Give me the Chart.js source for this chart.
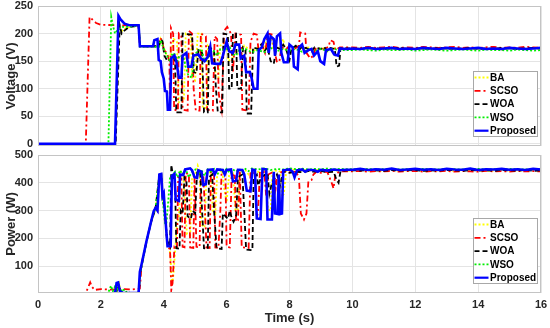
<!DOCTYPE html>
<html>
<head>
<meta charset="utf-8">
<title>Voltage and power</title>
<script src="https://cdn.jsdelivr.net/npm/chart.js@4.4.0/dist/chart.umd.min.js"></script>
<style>
  body { margin: 0; background: #fff; }
  #wrap { position: relative; width: 550px; height: 328px; }
  #topChart { position: absolute; left: 0; top: 0; }
  #botChart { position: absolute; left: 0; top: 150px; }
</style>
</head>
<body>
<div id="wrap">
  <canvas id="topChart" width="550" height="150"></canvas>
  <canvas id="botChart" width="550" height="178"></canvas>
</div>
<script>
// tick labels
const timeTicks = [0, 2, 4, 6, 8, 10, 12, 14, 16];
const voltTicks = [0, 50, 100, 150, 200, 250];
const powerTicks = [100, 200, 300, 400, 500];

const seriesNames = ["BA", "SCSO", "WOA", "WSO", "Proposed"];

// steady state part, shared time stamps (s)
const tailT = [10, 10.25, 10.5, 10.75, 11, 11.25, 11.5, 11.75, 12, 12.25, 12.5, 12.75, 13,
  13.25, 13.5, 13.75, 14, 14.25, 14.5, 14.75, 15, 15.25, 15.5, 15.75, 16];

// ---- voltage (V), [time, value] during the transient
const baV = [[0,0],[2.46,0],[2.58,214],[2.68,205],[2.8,210],[3.0,213],[3.2,214],[3.25,177],[3.85,177],[3.9,190],[4.0,175],[4.1,160],[4.2,158],[4.32,190],[4.42,185],[4.48,75],[4.64,78],[4.7,200],[4.86,196],[4.9,120],[5.0,115],[5.08,200],[5.2,200],[5.24,65],[5.36,65],[5.4,178],[5.58,168],[5.66,122],[5.74,120],[5.8,178],[5.98,186],[6.06,150],[6.22,158],[6.3,168],[6.46,160],[6.56,178],[6.7,172],[6.9,170],[7.0,176],[7.2,170],[7.3,198],[7.42,196],[7.48,172],[7.7,175],[7.8,190],[7.86,172],[8.0,170],[8.2,176],[8.4,172],[8.6,175],[8.8,170],[9.0,174],[9.2,171],[9.4,174],[9.6,172],[9.8,172]];
const scsoV = [[0,0],[1.52,0],[1.64,230],[1.72,226],[1.85,219],[2.0,216],[2.5,215],[3.2,215],[3.24,177],[3.84,177],[3.88,192],[3.95,188],[4.0,170],[4.1,165],[4.18,150],[4.2,62],[4.23,210],[4.3,200],[4.33,62],[4.45,60],[4.48,200],[4.56,196],[4.6,62],[4.76,60],[4.8,205],[4.9,200],[4.95,100],[5.02,60],[5.14,60],[5.18,200],[5.34,195],[5.38,62],[5.56,60],[5.62,195],[5.7,190],[5.75,90],[5.84,62],[5.92,205],[6.02,212],[6.14,200],[6.2,130],[6.28,200],[6.46,198],[6.5,62],[6.7,60],[6.76,185],[6.86,200],[6.96,198],[7.02,168],[7.12,180],[7.22,165],[7.32,200],[7.46,198],[7.52,170],[7.6,148],[7.68,150],[7.74,175],[7.9,172],[8.0,178],[8.1,168],[8.2,174],[8.3,178],[8.34,202],[8.5,200],[8.54,165],[8.66,155],[8.76,160],[8.84,175],[9.0,170],[9.1,172],[9.24,176],[9.3,188],[9.4,185],[9.46,170],[9.6,175],[9.8,175]];
const woaV = [[0,0],[2.47,0],[2.6,215],[2.66,200],[2.74,205],[2.9,212],[3.2,214],[3.25,177],[3.85,177],[3.9,190],[3.96,186],[4.02,160],[4.12,150],[4.2,152],[4.3,160],[4.36,150],[4.4,57],[4.56,57],[4.6,200],[4.9,198],[4.96,130],[5.04,128],[5.1,170],[5.22,165],[5.28,57],[5.4,57],[5.44,175],[5.6,170],[5.66,100],[5.72,57],[5.86,57],[5.9,200],[6.04,198],[6.08,100],[6.16,100],[6.2,200],[6.3,200],[6.34,100],[6.46,100],[6.52,175],[6.6,170],[6.64,55],[6.78,55],[6.84,175],[7.0,172],[7.1,180],[7.2,168],[7.3,175],[7.4,150],[7.5,145],[7.58,175],[7.7,172],[7.8,180],[7.9,170],[8.0,152],[8.06,172],[8.2,178],[8.3,170],[8.4,176],[8.6,172],[8.7,168],[8.8,175],[9.0,172],[9.1,176],[9.2,168],[9.3,174],[9.44,172],[9.5,140],[9.58,142],[9.62,173],[9.8,173]];
const wsoV = [[0,0],[2.24,0],[2.33,230],[2.38,215],[2.45,200],[2.55,208],[2.7,212],[3.0,213],[3.2,214],[3.25,176],[3.85,176],[3.9,188],[4.0,172],[4.1,160],[4.2,150],[4.28,165],[4.36,162],[4.44,150],[4.5,160],[4.62,158],[4.7,140],[4.78,124],[4.9,120],[4.96,162],[5.1,168],[5.2,172],[5.3,150],[5.38,152],[5.46,170],[5.6,168],[5.7,160],[5.8,172],[5.96,170],[6.1,175],[6.2,162],[6.3,160],[6.4,170],[6.6,172],[6.8,166],[7.0,170],[7.2,166],[7.4,174],[7.6,168],[7.8,172],[8.0,169],[8.2,172],[8.4,167],[8.6,171],[8.8,168],[9.0,172],[9.2,169],[9.4,172],[9.6,170],[9.8,170]];
const propV = [[0,0],[2.45,0],[2.56,232],[2.62,226],[2.75,218],[2.9,215],[3.2,215],[3.24,177],[3.66,177],[3.7,188],[3.8,190],[3.84,152],[3.9,150],[3.94,130],[4.0,118],[4.04,96],[4.1,95],[4.13,62],[4.2,62],[4.24,155],[4.34,160],[4.4,150],[4.48,120],[4.56,120],[4.6,160],[4.72,165],[4.78,140],[4.88,140],[4.94,160],[5.1,162],[5.18,155],[5.3,150],[5.4,158],[5.48,176],[5.54,146],[5.68,145],[5.8,145],[5.88,160],[6.0,185],[6.08,168],[6.2,165],[6.28,180],[6.4,180],[6.45,155],[6.56,160],[6.62,130],[6.74,130],[6.8,118],[6.86,100],[6.98,100],[7.02,170],[7.12,175],[7.2,190],[7.3,200],[7.34,165],[7.4,195],[7.5,190],[7.54,160],[7.6,195],[7.7,200],[7.74,165],[7.82,148],[7.94,148],[8.0,180],[8.1,175],[8.14,140],[8.26,135],[8.3,175],[8.4,180],[8.48,165],[8.6,170],[8.7,172],[8.78,160],[8.9,168],[8.98,150],[9.1,145],[9.16,170],[9.32,172],[9.42,162],[9.54,160],[9.6,173],[9.8,172]];

const baVTail = [172,173,171,172,173,172,171,173,172,172,173,171,172,173,172,171,172,173,172,171,173,172,172,173,172];
const scsoVTail = [175,174,176,174,175,176,174,175,174,176,175,174,175,176,174,175,174,175,176,174,175,174,176,175,174];
const woaVTail = [173,172,174,173,172,173,174,172,173,173,172,174,173,172,173,174,172,173,172,174,173,172,173,174,173];
const wsoVTail = [170,171,170,169,171,170,170,171,169,170,171,170,169,170,171,170,169,171,170,170,169,171,170,169,170];
const propVTail = [173,172,174,172,173,174,172,173,172,174,173,172,174,173,172,173,174,172,173,172,174,173,172,173,174];

// ---- power (W), [time, value] during the transient
const baP = [[0,0],[2.48,0],[2.52,30],[2.56,48],[2.62,15],[2.7,4],[3.2,4],[3.26,80],[3.45,188],[3.6,260],[3.74,308],[3.86,428],[3.92,430],[3.96,350],[4.04,290],[4.1,200],[4.18,170],[4.22,120],[4.26,30],[4.3,60],[4.36,150],[4.42,260],[4.48,270],[4.54,440],[4.62,435],[4.68,300],[4.74,215],[4.84,212],[4.9,420],[5.0,430],[5.08,462],[5.14,440],[5.2,250],[5.3,240],[5.36,430],[5.5,440],[5.56,300],[5.64,290],[5.7,430],[5.86,445],[5.92,380],[6.0,330],[6.08,430],[6.2,440],[6.28,300],[6.36,305],[6.42,440],[6.6,445],[6.7,430],[6.9,445],[7.0,440],[7.1,420],[7.2,448],[7.32,305],[7.4,300],[7.46,440],[7.6,445],[7.7,440],[7.76,350],[7.82,360],[7.9,445],[8.1,448],[8.3,444],[8.5,446],[8.7,442],[8.9,446],[9.1,443],[9.3,446],[9.5,444],[9.8,444]];
const scsoP = [[0,0],[1.5,0],[1.58,20],[1.66,42],[1.72,26],[1.8,15],[2.0,18],[2.3,16],[2.6,18],[3.0,17],[3.24,20],[3.3,112],[3.45,190],[3.6,262],[3.74,312],[3.8,300],[3.86,428],[3.92,430],[3.96,350],[4.0,358],[4.04,288],[4.1,198],[4.14,170],[4.2,160],[4.24,15],[4.28,40],[4.34,170],[4.42,165],[4.46,420],[4.56,415],[4.6,170],[4.66,168],[4.7,435],[4.8,430],[4.84,168],[4.94,166],[4.98,420],[5.04,170],[5.14,168],[5.18,430],[5.26,425],[5.3,330],[5.36,168],[5.46,166],[5.5,440],[5.6,430],[5.64,168],[5.74,166],[5.8,300],[5.84,440],[5.96,438],[6.0,170],[6.1,168],[6.16,430],[6.26,425],[6.3,260],[6.36,265],[6.42,440],[6.48,168],[6.7,166],[6.76,438],[6.9,435],[6.96,270],[7.0,300],[7.06,440],[7.2,438],[7.26,350],[7.32,430],[7.5,440],[7.56,380],[7.62,430],[7.8,442],[8.0,438],[8.2,440],[8.3,420],[8.36,290],[8.46,268],[8.54,290],[8.6,405],[8.7,410],[8.76,430],[8.86,440],[9.0,436],[9.2,440],[9.34,400],[9.4,380],[9.46,430],[9.6,442],[9.8,441]];
const woaP = [[0,0],[2.48,0],[2.52,20],[2.56,35],[2.62,10],[2.7,3],[3.2,4],[3.26,82],[3.45,188],[3.6,260],[3.74,308],[3.86,428],[3.92,430],[3.96,350],[4.04,290],[4.1,200],[4.2,172],[4.24,465],[4.3,420],[4.36,400],[4.4,165],[4.5,163],[4.54,300],[4.6,290],[4.66,420],[4.72,410],[4.76,280],[4.86,270],[4.92,300],[5.0,290],[5.06,440],[5.16,435],[5.22,300],[5.28,165],[5.4,162],[5.44,420],[5.54,430],[5.6,300],[5.68,165],[5.84,162],[5.88,290],[5.96,280],[6.04,270],[6.1,300],[6.16,275],[6.22,260],[6.3,280],[6.36,420],[6.5,430],[6.56,300],[6.62,160],[6.82,158],[6.86,420],[6.96,430],[7.0,390],[7.1,420],[7.3,435],[7.36,360],[7.44,400],[7.6,430],[7.7,390],[7.8,440],[8.0,436],[8.2,440],[8.4,438],[8.6,442],[8.8,440],[9.0,443],[9.2,438],[9.4,440],[9.5,410],[9.56,400],[9.62,440],[9.8,445]];
const wsoP = [[0,0],[2.2,0],[2.26,12],[2.32,30],[2.38,10],[2.44,25],[2.5,8],[2.56,28],[2.62,5],[2.7,20],[2.78,6],[2.86,10],[2.94,3],[3.2,4],[3.26,80],[3.45,188],[3.6,262],[3.74,310],[3.86,428],[3.92,430],[3.96,350],[4.0,300],[4.04,255],[4.08,250],[4.14,330],[4.2,420],[4.28,430],[4.36,440],[4.44,420],[4.52,445],[4.6,430],[4.7,448],[4.8,420],[4.9,440],[5.0,448],[5.1,430],[5.2,445],[5.3,425],[5.4,448],[5.5,440],[5.6,450],[5.7,430],[5.8,448],[5.9,440],[6.0,450],[6.1,435],[6.2,448],[6.3,440],[6.4,450],[6.5,438],[6.6,450],[6.7,442],[6.8,452],[7.0,448],[7.2,452],[7.4,446],[7.6,450],[7.8,448],[8.0,452],[8.2,449],[8.4,451],[8.6,448],[8.8,450],[9.0,449],[9.2,451],[9.4,448],[9.6,450],[9.8,449]];
const propP = [[0,0],[2.42,0],[2.46,10],[2.5,40],[2.55,42],[2.6,12],[2.7,4],[3.2,4],[3.24,80],[3.3,110],[3.45,190],[3.6,262],[3.68,298],[3.74,310],[3.8,300],[3.86,430],[3.92,432],[3.96,352],[4.0,362],[4.04,290],[4.1,200],[4.12,172],[4.22,172],[4.26,425],[4.34,432],[4.38,340],[4.48,335],[4.52,430],[4.62,428],[4.68,448],[4.84,452],[4.9,445],[4.98,420],[5.06,418],[5.1,445],[5.2,440],[5.26,392],[5.34,395],[5.4,446],[5.56,448],[5.62,430],[5.7,448],[5.88,446],[5.94,430],[6.0,446],[6.14,448],[6.2,405],[6.3,408],[6.36,447],[6.5,446],[6.56,430],[6.64,372],[6.76,370],[6.82,448],[6.9,446],[6.96,272],[7.08,270],[7.14,450],[7.26,448],[7.3,268],[7.44,268],[7.5,440],[7.54,290],[7.62,288],[7.66,430],[7.7,288],[7.76,290],[7.8,445],[8.0,448],[8.1,440],[8.16,420],[8.24,445],[8.4,448],[8.5,440],[8.6,447],[8.8,445],[8.9,440],[9.0,447],[9.2,444],[9.4,448],[9.6,445],[9.8,447]];

const baPTail = [444,446,443,445,444,446,443,445,444,443,446,444,445,443,446,444,445,443,444,446,444,445,443,445,444];
const scsoPTail = [441,443,440,442,441,443,440,442,443,440,442,441,443,440,442,441,440,443,441,442,440,443,441,442,441];
const woaPTail = [445,444,446,445,443,446,444,445,446,443,445,444,446,445,443,446,444,445,443,446,445,444,446,443,445];
const wsoPTail = [449,448,450,448,449,450,448,449,448,450,449,448,450,449,448,449,450,448,449,448,450,449,448,449,450];
const propPTail = [447,450,446,449,447,451,446,448,450,447,449,446,450,448,447,451,446,449,448,450,447,449,446,450,448];

const FONT = "'Liberation Sans', Arial, Helvetica, sans-serif";
const TXT = "#262626";

// line look per method
const styles = [
  { color: "#ffff00", dash: [2, 2], width: 1.8, order: 5 },
  { color: "#ff0000", dash: [6, 3, 2, 3], width: 1.8, order: 4 },
  { color: "#000000", dash: [5, 3], width: 1.8, order: 3 },
  { color: "#00ee00", dash: [2, 2], width: 1.8, order: 2 },
  { color: "#0000ff", dash: [], width: 2.6, order: 1 },
];

function toXY(head, tail) {
  const pts = head.map(p => ({ x: p[0], y: p[1] }));
  tailT.forEach((t, i) => pts.push({ x: t, y: tail[i] }));
  return pts;
}

function makeDatasets(lists) {
  return lists.map((pair, i) => ({
    label: seriesNames[i],
    data: toXY(pair[0], pair[1]),
    borderColor: styles[i].color,
    borderDash: styles[i].dash,
    borderWidth: styles[i].width,
    order: styles[i].order,
    pointRadius: 0,
    tension: 0,
    fill: false,
  }));
}

// grey frame around the plot area
const framePlugin = {
  id: "frame",
  afterDatasetsDraw(chart) {
    const a = chart.chartArea, ctx = chart.ctx;
    ctx.save();
    ctx.strokeStyle = "#c4c4c4";
    ctx.lineWidth = 1;
    ctx.strokeRect(Math.round(a.left) + 0.5, Math.round(a.top) + 0.5,
      Math.round(a.right - a.left) - 1, Math.round(a.bottom - a.top) - 1);
    ctx.restore();
  },
};

// legend box in the lower right corner of the plot
const boxLegend = {
  id: "boxLegend",
  afterDraw(chart) {
    const a = chart.chartArea, ctx = chart.ctx;
    const w = 64, rowH = 13.3, h = 65;
    const x0 = Math.round(a.right - 4 - w) + 0.5;
    const y0 = Math.round(a.bottom - 10 - h) + 0.5;
    ctx.save();
    ctx.fillStyle = "#ffffff";
    ctx.fillRect(x0, y0, w, h);
    ctx.strokeStyle = "#a8a8a8";
    ctx.lineWidth = 1;
    ctx.strokeRect(x0, y0, w, h);
    ctx.font = "bold 10px " + FONT;
    ctx.textBaseline = "middle";
    seriesNames.forEach((name, i) => {
      const y = y0 + 6 + i * rowH;
      ctx.strokeStyle = styles[i].color;
      ctx.lineWidth = Math.min(styles[i].width, 2.2);
      ctx.setLineDash(styles[i].dash);
      ctx.beginPath();
      ctx.moveTo(x0 + 1, y);
      ctx.lineTo(x0 + 15, y);
      ctx.stroke();
      ctx.setLineDash([]);
      ctx.fillStyle = "#000";
      ctx.fillText(name, x0 + 16.5, y + 0.5);
    });
    ctx.restore();
  },
};

function yAxis(min, max, ticksList, title) {
  return {
    type: "linear",
    min: min,
    max: max,
    afterBuildTicks: s => { s.ticks = ticksList.map(v => ({ value: v })); },
    afterFit: s => { s.width = 38; s.paddingTop = 0; s.paddingBottom = 0; },
    grid: { color: "#e4e4e4", drawTicks: false },
    border: { display: false },
    ticks: { color: TXT, padding: 5, font: { family: FONT, size: 11, weight: "bold" } },
    title: { display: true, text: title, color: TXT, padding: { top: 4, bottom: 0 },
      font: { family: FONT, size: 13, weight: "bold" } },
  };
}

function xAxis(showLabels) {
  return {
    type: "linear",
    min: 0,
    max: 16,
    afterBuildTicks: s => { s.ticks = timeTicks.map(v => ({ value: v })); },
    afterFit: s => { s.height = showLabels ? 35 : 0; s.paddingLeft = 0; s.paddingRight = 0; },
    grid: { color: "#e4e4e4", drawTicks: false },
    border: { display: false },
    ticks: { display: showLabels, color: TXT, padding: 5, maxRotation: 0,
      font: { family: FONT, size: 11, weight: "bold" } },
    title: { display: showLabels, text: "Time (s)", color: TXT, padding: { top: 0, bottom: 2 },
      font: { family: FONT, size: 13, weight: "bold" } },
  };
}

const common = {
  responsive: false,
  animation: false,
  events: [],
  plugins: { legend: { display: false }, tooltip: { enabled: false } },
};

new Chart(document.getElementById("topChart"), {
  type: "line",
  data: {
    datasets: makeDatasets([
      [baV, baVTail], [scsoV, scsoVTail], [woaV, woaVTail], [wsoV, wsoVTail], [propV, propVTail],
    ]),
  },
  options: Object.assign({}, common, {
    layout: { padding: { top: 6, right: 9, bottom: 4, left: 0 } },
    scales: { x: xAxis(false), y: yAxis(-4, 250, voltTicks, "Voltage (V)") },
  }),
  plugins: [framePlugin, boxLegend],
});

new Chart(document.getElementById("botChart"), {
  type: "line",
  data: {
    datasets: makeDatasets([
      [baP, baPTail], [scsoP, scsoPTail], [woaP, woaPTail], [wsoP, wsoPTail], [propP, propPTail],
    ]),
  },
  options: Object.assign({}, common, {
    layout: { padding: { top: 5, right: 9, bottom: 0, left: 0 } },
    scales: { x: xAxis(true), y: yAxis(4, 500, powerTicks, "Power (W)") },
  }),
  plugins: [framePlugin, boxLegend],
});
</script>
</body>
</html>
